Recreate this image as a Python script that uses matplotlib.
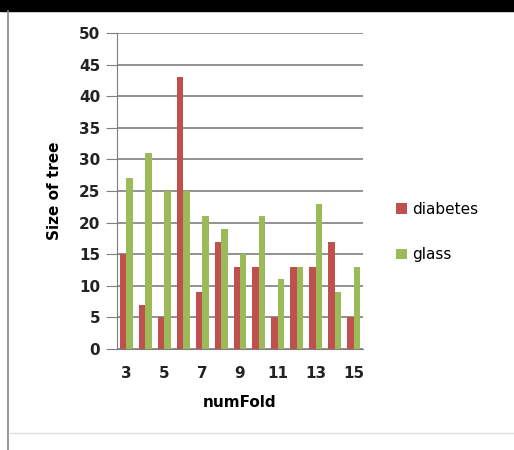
import matplotlib
matplotlib.use("Agg")
import matplotlib.pyplot as plt
import numpy as np
from matplotlib.patches import Rectangle
from matplotlib.lines import Line2D

num_fold = [3, 4, 5, 6, 7, 8, 9, 10, 11, 12, 13, 14, 15]
diabetes = [15, 7, 5, 43, 9, 17, 13, 13, 5, 13, 13, 17, 5]
glass = [27, 31, 25, 25, 21, 19, 15, 21, 11, 13, 23, 9, 13]
tick_labels = ["3", "5", "7", "9", "11", "13", "15"]

red = "#C0504D"
green = "#9BBB59"

fig = plt.figure(figsize=(5.14, 4.5), dpi=100)
fig.patch.set_facecolor("white")

# frame decorations
fig.add_artist(Rectangle((0, 1 - 11/450), 1, 11/450, transform=fig.transFigure, color="black", zorder=0))
fig.add_artist(Line2D([8/514, 8/514], [0, 1 - 11/450], transform=fig.transFigure, color="#888888", lw=1.2))
fig.add_artist(Line2D([10/514, 1], [1 - 433/450, 1 - 433/450], transform=fig.transFigure, color="#dddddd", lw=1))

ax = fig.add_axes([117/514, 1 - 349/450, 246/514, 316/450])
x = np.arange(len(num_fold))
w = 0.34
ax.bar(x - w/2, diabetes, width=w, color=red, label="diabetes", zorder=3)
ax.bar(x + w/2, glass, width=w, color=green, label="glass", zorder=3)

ax.set_xlim(-0.5, len(num_fold) - 0.5)
ax.set_ylim(0, 50)
ax.set_yticks(range(0, 51, 5))
ax.yaxis.grid(True, color="#7f7f7f", lw=1.2, zorder=0)
ax.set_xticks(x[::2])
ax.set_xticklabels(tick_labels)
for s in ["top", "right"]:
    ax.spines[s].set_visible(False)
ax.spines["left"].set_color("#7f7f7f")
ax.spines["bottom"].set_color("#7f7f7f")
ax.tick_params(axis="y", length=8, color="#7f7f7f", labelsize=11, pad=4)
ax.tick_params(axis="x", length=0, labelsize=11, pad=12)
for lab in ax.get_xticklabels() + ax.get_yticklabels():
    lab.set_fontweight("bold")
    lab.set_color("#222222")
ax.set_xlabel("numFold", fontsize=11, fontweight="bold", labelpad=10)
ax.set_ylabel("Size of tree", fontsize=11, fontweight="bold", labelpad=12)

ax.legend(loc="center left", bbox_to_anchor=(1.08, 0.37), frameon=False, fontsize=11,
          handlelength=0.7, handleheight=0.7, handletextpad=0.3, labelspacing=2.0)

fig.savefig("out.png", dpi=100)
